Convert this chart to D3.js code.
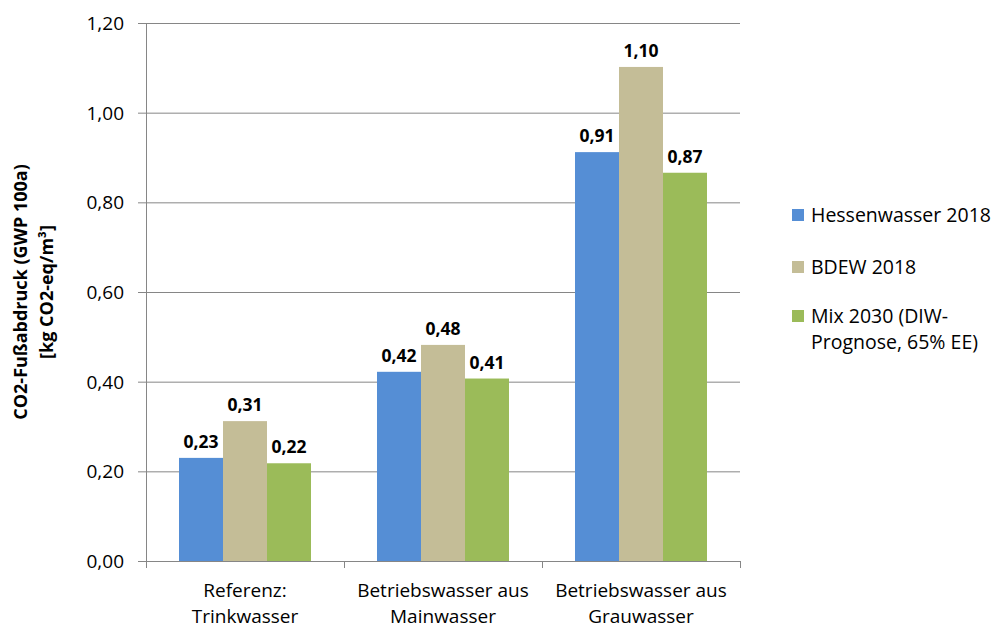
<!DOCTYPE html>
<html><head><meta charset="utf-8">
<script src="https://cdn.jsdelivr.net/npm/d3@7"></script>
<style>
body{margin:0;background:#fff;}
text{font-family:"Open Sans",Lato,sans-serif;fill:#000;}
</style></head>
<body><svg id="c" width="995" height="628"></svg>
<script>
const categories = [["Referenz:","Trinkwasser"],["Betriebswasser aus","Mainwasser"],["Betriebswasser aus","Grauwasser"]];
const seriesNames = [["Hessenwasser 2018"],["BDEW 2018"],["Mix 2030 (DIW-","Prognose, 65% EE)"]];
const hessenwasser = [0.23, 0.422, 0.912];
const bdew = [0.312, 0.482, 1.102];
const mix2030 = [0.218, 0.407, 0.866];
const colors = ["#558ED5","#C4BD97","#9BBB59"];
const yTicks = [0,0.2,0.4,0.6,0.8,1.0,1.2];
const seriesValues = [hessenwasser, bdew, mix2030];

const svg = d3.select("#c");
const L=146, R=740, T=23, B=561;
const y = d3.scaleLinear().domain([0,1.2]).range([B,T]);
const x0 = d3.scaleBand().domain(d3.range(categories.length)).range([L,R]).paddingInner(0.3333).paddingOuter(0.16667);
const x1 = d3.scaleBand().domain(d3.range(3)).range([0,x0.bandwidth()]);
const fmt = v => d3.format(".2f")(v).replace(".",",");

// gridlines
svg.append("g").selectAll("line").data(yTicks).join("line")
  .attr("x1",L-8).attr("x2",R).attr("y1",d=>y(d)+0.5).attr("y2",d=>y(d)+0.5)
  .attr("stroke","#868686").attr("stroke-width",1);
// y axis line
svg.append("line").attr("x1",L+0.5).attr("x2",L+0.5).attr("y1",T).attr("y2",B+7).attr("stroke","#868686");
// y tick labels
svg.append("g").selectAll("text").data(yTicks).join("text")
  .attr("x",124).attr("y",d=>y(d)+7).attr("text-anchor","end").attr("font-size",19)
  .text(d=>d3.format(".2f")(d).replace(".",","));
// x ticks (category boundaries)
const bounds = d3.range(categories.length+1).map(i=>L+i*(R-L)/categories.length);
svg.append("g").selectAll("line").data(bounds).join("line")
  .attr("x1",d=>d+0.5).attr("x2",d=>d+0.5).attr("y1",B).attr("y2",B+7).attr("stroke","#868686");

// bars
const g = svg.append("g");
seriesValues.forEach((vals,s)=>{
  g.append("g").selectAll("rect").data(vals).join("rect")
    .attr("x",(d,i)=>x0(i)+x1(s)).attr("width",x1.bandwidth())
    .attr("y",d=>y(d)).attr("height",d=>B-y(d)).attr("fill",colors[s]);
  g.append("g").selectAll("text").data(vals).join("text")
    .attr("x",(d,i)=>x0(i)+x1(s)+x1.bandwidth()/2).attr("y",d=>y(d)-10)
    .attr("text-anchor","middle").attr("font-size",17.5).attr("font-weight","bold")
    .text(d=>fmt(d));
});

// x labels
categories.forEach((lines,i)=>{
  const t = svg.append("text").attr("text-anchor","middle").attr("font-size",19);
  lines.forEach((ln,j)=>t.append("tspan").attr("x",x0(i)+x0.bandwidth()/2).attr("y",597+j*26).text(ln));
});

// y title
const yt = svg.append("text").attr("transform","translate(0,292) rotate(-90)").attr("text-anchor","middle")
  .attr("font-size",18).attr("font-weight","bold");
yt.append("tspan").attr("x",0).attr("y",27).text("CO2-Fußabdruck (GWP 100a)");
yt.append("tspan").attr("x",0).attr("y",53).text("[kg CO2-eq/m³]");

// legend
const legY = [215,267,316];
seriesNames.forEach((lines,s)=>{
  svg.append("rect").attr("x",792).attr("y",legY[s]-6).attr("width",12).attr("height",12).attr("fill",colors[s]);
  const t = svg.append("text").attr("font-size",19.5);
  lines.forEach((ln,j)=>t.append("tspan").attr("x",811).attr("y",legY[s]+7+j*26).text(ln));
});
</script></body></html>
